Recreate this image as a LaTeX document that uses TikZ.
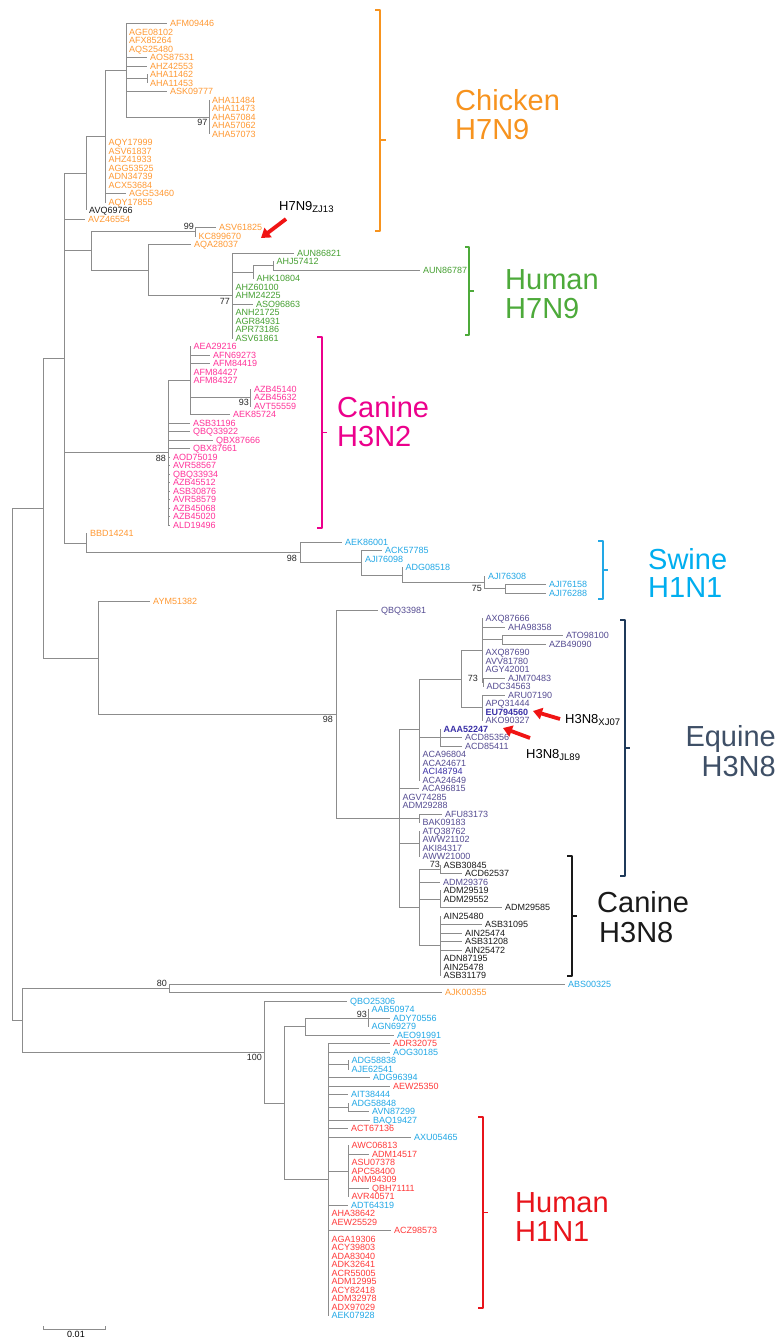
\documentclass[tikz,border=0pt]{standalone}
\usepackage{fontspec}
\setmainfont{Liberation Sans}
\usetikzlibrary{arrows.meta}
\definecolor{brc}{HTML}{8C8C8C}
\definecolor{cO}{HTML}{FF9933}
\definecolor{cG}{HTML}{46A032}
\definecolor{cP}{HTML}{FF3399}
\definecolor{cB}{HTML}{22A8E6}
\definecolor{cV}{HTML}{554C92}
\definecolor{cVb}{HTML}{3B31A8}
\definecolor{cR}{HTML}{FF3A3A}
\definecolor{cK}{HTML}{1A1A1A}
\definecolor{kO}{HTML}{F7931E}
\definecolor{kG}{HTML}{4DAA3A}
\definecolor{kP}{HTML}{EC008C}
\definecolor{kB}{HTML}{00AEEF}
\definecolor{kE}{HTML}{1F3A5A}
\definecolor{kEt}{HTML}{3E4F66}
\definecolor{kR}{HTML}{E8141B}
\definecolor{arrowred}{HTML}{F01414}
\newcommand\lfont{\fontsize{9}{9}\selectfont}
\newcommand\bigfont{\fontsize{29}{26}\selectfont}
\newcommand\Nd[4]{\coordinate (#2) at (#3,#4); \draw[br] (#1) |- (#2);}
\newcommand\Lf[5]{\node[lf,text=#5] (#2) at (#3,#4) {#2}; \draw[br] (#1) |- (#2.west);}
\tikzset{
 br/.style={draw=brc, line width=0.8pt},
 lf/.style={anchor=west, inner xsep=3pt, inner ysep=0pt, font=\lfont, text height=6.4pt, text depth=0pt},
 bs/.style={anchor=east, inner sep=0pt, font=\lfont, text=black!85, text height=6.4pt, text depth=0pt},
 brk/.style={line width=1.4pt, line join=round},
 big/.style={anchor=base west, inner sep=0pt, font=\bigfont},
 ann/.style={anchor=base west, inner sep=0pt, font=\fontsize{13}{13}\selectfont, text=black},
 rarrow/.style={draw=arrowred, line width=3.8pt, -{Triangle[length=9pt,width=11.5pt]}},
}
\newcommand\sbs[1]{\raisebox{-2pt}{\fontsize{9.5}{9.5}\selectfont #1}}
\begin{document}
\begin{tikzpicture}[x=1pt,y=-1pt]
\fill[white] (0,0) rectangle (780,1337);
\useasboundingbox (0,0) rectangle (780,1337);
% ---- root and backbone
\coordinate (R) at (12,764);
\Nd{R}{NA}{43}{508}
\Nd{NA}{NB}{64}{358.2}
\Nd{NB}{Nchk}{86}{173.3}
\Nd{Nchk}{N105}{105}{136.1}
\Nd{N105}{N126}{126}{70.25}
% chicken
\Lf{N126}{AFM09446}{167}{23.5}{cO}
\Lf{N126}{AGE08102}{126}{32}{cO}
\Lf{N126}{AFX85264}{126}{40.5}{cO}
\Lf{N126}{AQS25480}{126}{49}{cO}
\Lf{N126}{AOS87531}{147}{57.5}{cO}
\Lf{N126}{AHZ42553}{147}{66}{cO}
\Nd{N126}{N147}{147}{78.75}
\Lf{N147}{AHA11462}{147}{74.5}{cO}
\Lf{N147}{AHA11453}{147}{83}{cO}
\Lf{N126}{ASK09777}{167}{91.5}{cO}
\Nd{N126}{N97}{209}{117}
\Lf{N97}{AHA11484}{209}{100}{cO}
\Lf{N97}{AHA11473}{209}{108.5}{cO}
\Lf{N97}{AHA57084}{209}{117}{cO}
\Lf{N97}{AHA57062}{209}{125.5}{cO}
\Lf{N97}{AHA57073}{209}{134}{cO}
\node[bs] (b97) at (207.5,122.7) {97};
\Lf{N105}{AQY17999}{105.5}{142.5}{cO}
\Lf{N105}{ASV61837}{105.5}{151}{cO}
\Lf{N105}{AHZ41933}{105.5}{159.5}{cO}
\Lf{N105}{AGG53525}{105.5}{168}{cO}
\Lf{N105}{ADN34739}{105.5}{176.5}{cO}
\Lf{N105}{ACX53684}{105.5}{185}{cO}
\Lf{N105}{AGG53460}{126}{193.5}{cO}
\Lf{N105}{AQY17855}{105.5}{202}{cO}
\Lf{Nchk}{AVQ69766}{86}{210.5}{cK}
\Lf{NB}{AVZ46554}{85}{219}{cO}
% H7N9 human group
\Nd{NB}{N91}{91}{250.9}
\Nd{N91}{N99}{195}{231.75}
\Lf{N99}{ASV61825}{216}{227.5}{cO}
\Lf{N99}{KC899670}{195.5}{236}{cO}
\node[bs] (b99) at (194,226.5) {99};
\Nd{N91}{N148}{148}{270}
\Lf{N148}{AQA28037}{191}{244.5}{cO}
\Nd{N148}{N77}{232}{295.5}
\Lf{N77}{AUN86821}{294}{253}{cG}
\Nd{N77}{N253}{253}{272.1}
\Nd{N253}{N273}{273}{265.75}
\Lf{N273}{AHJ57412}{273.5}{261.5}{cG}
\Lf{N273}{AUN86787}{420}{270}{cG}
\Lf{N253}{AHK10804}{253.5}{278.5}{cG}
\Lf{N77}{AHZ60100}{232.5}{287}{cG}
\Lf{N77}{AHM24225}{232.5}{295.5}{cG}
\Lf{N77}{ASO96863}{253}{304}{cG}
\Lf{N77}{ANH21725}{232.5}{312.5}{cG}
\Lf{N77}{AGR84931}{232.5}{321}{cG}
\Lf{N77}{APR73186}{232.5}{329.5}{cG}
\Lf{N77}{ASV61861}{232.5}{338}{cG}
\node[bs] (b77) at (230,301) {77};
% canine H3N2
\Nd{NB}{N88}{168}{452.75}
\Nd{N88}{N190}{190}{380.5}
\Lf{N190}{AEA29216}{190.5}{346.5}{cP}
\Lf{N190}{AFN69273}{210}{355}{cP}
\Lf{N190}{AFM84419}{210}{363.5}{cP}
\Lf{N190}{AFM84427}{190.5}{372}{cP}
\Lf{N190}{AFM84327}{190.5}{380.5}{cP}
\Nd{N190}{N93a}{250}{397.5}
\Lf{N93a}{AZB45140}{251}{389}{cP}
\Lf{N93a}{AZB45632}{251}{397.5}{cP}
\Lf{N93a}{AVT55559}{251}{406}{cP}
\node[bs] (b93a) at (249,402.5) {93};
\Lf{N190}{AEK85724}{230}{414.5}{cP}
\Lf{N88}{ASB31196}{190}{423}{cP}
\Lf{N88}{QBQ33922}{190}{431.5}{cP}
\Lf{N88}{QBX87666}{213}{440}{cP}
\Lf{N88}{QBX87661}{190}{448.5}{cP}
\Lf{N88}{AOD75019}{170}{457}{cP}
\Lf{N88}{AVR58567}{170}{465.5}{cP}
\Lf{N88}{QBQ33934}{170}{474}{cP}
\Lf{N88}{AZB45512}{170}{482.5}{cP}
\Lf{N88}{ASB30876}{170}{491}{cP}
\Lf{N88}{AVR58579}{170}{499.5}{cP}
\Lf{N88}{AZB45068}{170}{508}{cP}
\Lf{N88}{AZB45020}{170}{516.5}{cP}
\Lf{N88}{ALD19496}{170}{525}{cP}
\node[bs] (b88) at (166,458) {88};
% swine
\Nd{NB}{N86b}{86}{543}
\Lf{N86b}{BBD14241}{87}{533.5}{cO}
\Nd{N86b}{N98s}{300}{552.4}
\Lf{N98s}{AEK86001}{342}{542}{cB}
\Nd{N98s}{N361}{361}{562.7}
\Lf{N361}{ACK57785}{382}{550.5}{cB}
\Lf{N361}{AJI76098}{362}{559}{cB}
\Nd{N361}{N402}{402}{574.9}
\Lf{N402}{ADG08518}{402.5}{567.5}{cB}
\Nd{N402}{N484}{484}{582.4}
\Lf{N484}{AJI76308}{485}{576}{cB}
\Nd{N484}{N505}{505}{588.75}
\Lf{N505}{AJI76158}{546}{584.5}{cB}
\Lf{N505}{AJI76288}{546}{593}{cB}
\node[bs] (b98s) at (297,558) {98};
\node[bs] (b75) at (482,588) {75};
% equine and canine H3N8
\Nd{NA}{NAYM}{98}{657.9}
\Lf{NAYM}{AYM51382}{150}{601.5}{cO}
\Nd{NAYM}{N336}{336}{714.25}
\Lf{N336}{QBQ33981}{378}{610}{cV}
\Nd{N336}{N399}{399}{818.5}
\node[bs] (b98e) at (333,719) {98};
\Nd{N399}{N419a}{419}{729.5}
\Nd{N419a}{N461}{461}{679}
\Nd{N461}{N482u}{482}{650.4}
\Lf{N482u}{AXQ87666}{482.5}{618.5}{cV}
\Lf{N482u}{AHA98358}{505}{627}{cV}
\Nd{N482u}{N502}{502}{639.75}
\Lf{N502}{ATO98100}{563}{635.5}{cV}
\Lf{N502}{AZB49090}{546}{644}{cV}
\Lf{N482u}{AXQ87690}{482.5}{652.5}{cV}
\Lf{N482u}{AVV81780}{482.5}{661}{cV}
\Lf{N482u}{AGY42001}{482.5}{669.5}{cV}
\Nd{N482u}{N73e}{483}{682.25}
\Lf{N73e}{AJM70483}{505}{678}{cV}
\Lf{N73e}{ADC34563}{483.5}{686.5}{cV}
\node[bs] (b73e) at (478,678) {73};
\Nd{N461}{N482l}{482}{707.75}
\Lf{N482l}{ARU07190}{505}{695}{cV}
\Lf{N482l}{APQ31444}{482.5}{703.5}{cV}
\node[lf,text=cVb,font=\lfont\bfseries] (EU794560) at (482.5,712) {EU794560};
\draw[br] (N482l) |- (EU794560.west);
\Lf{N482l}{AKO90327}{482.5}{720.5}{cV}
\Nd{N419a}{N440a}{440}{737.5}
\node[lf,text=cVb,font=\lfont\bfseries] (AAA52247) at (440.5,729) {AAA52247};
\draw[br] (N440a) |- (AAA52247.west);
\Lf{N440a}{ACD85356}{462}{737.5}{cV}
\Lf{N440a}{ACD85411}{462}{746}{cV}
\Lf{N419a}{ACA96804}{419.5}{754.5}{cV}
\Lf{N419a}{ACA24671}{419.5}{763}{cV}
\Lf{N419a}{ACI48794}{419.5}{771.5}{cVb}
\Lf{N419a}{ACA24649}{419.5}{780}{cV}
\Lf{N399}{ACA96815}{419}{788.5}{cV}
\Lf{N399}{AGV74285}{399.5}{797}{cV}
\Lf{N399}{ADM29288}{399.5}{805.5}{cV}
\Nd{N399}{N419b}{419}{818.25}
\Lf{N419b}{AFU83173}{442}{814}{cV}
\Lf{N419b}{BAK09183}{419.5}{822.5}{cV}
\Nd{N399}{N419c}{419}{843.75}
\Lf{N419c}{ATQ38762}{419.5}{831}{cV}
\Lf{N419c}{AWW21102}{419.5}{839.5}{cV}
\Lf{N419c}{AKI84317}{419.5}{848}{cV}
\Lf{N419c}{AWW21000}{419.5}{856.5}{cV}
\Nd{N399}{N419d}{419}{907.5}
\Nd{N419d}{N440b}{440}{869.25}
\Lf{N440b}{ASB30845}{440.5}{865}{cK}
\Lf{N440b}{ACD62537}{462}{873.5}{cK}
\node[bs] (b73c) at (440,864.5) {73};
\Lf{N419d}{ADM29376}{440}{882}{cV}
\Nd{N419d}{N440c}{440}{899}
\Lf{N440c}{ADM29519}{440.5}{890.5}{cK}
\Lf{N440c}{ADM29552}{440.5}{899}{cK}
\Lf{N440c}{ADM29585}{502}{907.5}{cK}
\Nd{N419d}{N440d}{440}{945.75}
\Lf{N440d}{AIN25480}{440.5}{916}{cK}
\Lf{N440d}{ASB31095}{482}{924.5}{cK}
\Lf{N440d}{AIN25474}{462}{933}{cK}
\Lf{N440d}{ASB31208}{462}{941.5}{cK}
\Lf{N440d}{AIN25472}{462}{950}{cK}
\Lf{N440d}{ADN87195}{440.5}{958.5}{cK}
\Lf{N440d}{AIN25478}{440.5}{967}{cK}
\Lf{N440d}{ASB31179}{440.5}{975.5}{cK}
% lower part
\Nd{R}{NC}{22.5}{1020.1}
\Nd{NC}{N80}{169}{988.25}
\Lf{N80}{ABS00325}{565}{984}{cB}
\Lf{N80}{AJK00355}{442}{992.5}{cO}
\node[bs] (b80) at (167,983) {80};
\Nd{NC}{N100}{264}{1052}
\Lf{N100}{QBO25306}{347}{1001}{cB}
\node[bs] (b100) at (262,1057) {100};
\Nd{N100}{N284}{284}{1103}
\Nd{N284}{N305}{305}{1026.5}
\Nd{N305}{N368}{368}{1018}
\Lf{N368}{AAB50974}{368.5}{1009.5}{cB}
\Lf{N368}{ADY70556}{390}{1018}{cB}
\Lf{N368}{AGN69279}{368.5}{1026.5}{cB}
\node[bs] (b93h) at (367,1014) {93};
\Lf{N305}{AEO91991}{394}{1035}{cB}
\Nd{N284}{N328}{328}{1179.5}
\Lf{N328}{ADR32075}{390}{1043.5}{cR}
\Lf{N328}{AOG30185}{390}{1052}{cB}
\Nd{N328}{N348a}{348}{1064.75}
\Lf{N348a}{ADG58838}{348.5}{1060.5}{cB}
\Lf{N348a}{AJE62541}{348.5}{1069}{cB}
\Lf{N328}{ADG96394}{370}{1077.5}{cB}
\Lf{N328}{AEW25350}{390}{1086}{cR}
\Lf{N328}{AIT38444}{348}{1094.5}{cB}
\Nd{N328}{N348b}{348}{1107.25}
\Lf{N348b}{ADG58848}{348.5}{1103}{cB}
\Lf{N348b}{AVN87299}{369}{1111.5}{cB}
\Lf{N328}{BAQ19427}{370}{1120}{cB}
\Lf{N328}{ACT67136}{348}{1128.5}{cR}
\Lf{N328}{AXU05465}{411}{1137}{cB}
\Nd{N328}{N348c}{348}{1171}
\Lf{N348c}{AWC06813}{348.5}{1145.5}{cR}
\Lf{N348c}{ADM14517}{369}{1154}{cR}
\Lf{N348c}{ASU07378}{348.5}{1162.5}{cR}
\Lf{N348c}{APC58400}{348.5}{1171}{cR}
\Lf{N348c}{ANM94309}{348.5}{1179.5}{cR}
\Lf{N348c}{QBH71111}{369}{1188}{cR}
\Lf{N348c}{AVR40571}{348.5}{1196.5}{cR}
\Lf{N328}{ADT64319}{348}{1205}{cB}
\Lf{N328}{AHA38642}{328.5}{1213.5}{cR}
\Lf{N328}{AEW25529}{328.5}{1222}{cR}
\Lf{N328}{ACZ98573}{391}{1230.5}{cR}
\Lf{N328}{AGA19306}{328.5}{1239}{cR}
\Lf{N328}{ACY39803}{328.5}{1247.5}{cR}
\Lf{N328}{ADA83040}{328.5}{1256}{cR}
\Lf{N328}{ADK32641}{328.5}{1264.5}{cR}
\Lf{N328}{ACR55005}{328.5}{1273}{cR}
\Lf{N328}{ADM12995}{328.5}{1281.5}{cR}
\Lf{N328}{ACY82418}{328.5}{1290}{cR}
\Lf{N328}{ADM32978}{328.5}{1298.5}{cR}
\Lf{N328}{ADX97029}{328.5}{1307}{cR}
\Lf{N328}{AEK07928}{328.5}{1315.5}{cB}
% ---- brackets
\draw[brk,draw=kO] (375,10) -- (380,10) -- (380,231) -- (375,231) (380,140) -- (386,140);
\draw[brk,draw=kG] (465,247) -- (469,247) -- (469,335) -- (465,335) (469,291) -- (474,291);
\draw[brk,draw=kP] (317,337) -- (322,337) -- (322,528) -- (317,528) (322,432.5) -- (327,432.5);
\draw[brk,draw=cB] (598,541) -- (603,541) -- (603,599) -- (598,599) (603,570) -- (608,570);
\draw[brk,draw=kE] (620,620) -- (625,620) -- (625,876) -- (620,876) (625,748) -- (630,748);
\draw[brk,draw=cK] (567,856) -- (572,856) -- (572,976) -- (567,976) (572,916) -- (577,916);
\draw[brk,draw=kR] (478,1117) -- (483,1117) -- (483,1308) -- (478,1308) (483,1212.5) -- (488,1212.5);
% ---- group labels
\node[big,text=kO] (chk1) at (455,111) {Chicken};
\node[big,text=kO] (chk2) at (455,140) {H7N9};
\node[big,text=kG] (hum1) at (505,290) {Human};
\node[big,text=kG] (hum2) at (505,319) {H7N9};
\node[big,text=kP] (can1) at (337,417) {Canine};
\node[big,text=kP] (can2) at (337,446) {H3N2};
\node[big,text=kB] (swi1) at (648,569) {Swine};
\node[big,text=kB] (swi2) at (648,597) {H1N1};
\node[big,text=kEt,anchor=base east] (equ1) at (776,746) {Equine};
\node[big,text=kEt,anchor=base east] (equ2) at (776,776) {H3N8};
\node[big,text=cK] (cah1) at (597,912) {Canine};
\node[big,text=cK] (cah2) at (599,942) {H3N8};
\node[big,text=kR] (hh1) at (515,1212) {Human};
\node[big,text=kR] (hh2) at (515,1241) {H1N1};
% ---- strain annotations and arrows
\node[ann] (zj13) at (279,210.5) {H7N9\sbs{ZJ13}};
\node[ann] (xj07) at (565,723) {H3N8\sbs{XJ07}};
\node[ann] (jl89) at (526,758) {H3N8\sbs{JL89}};
\coordinate (a1s) at (286,219); \coordinate (a1e) at (261,238);
\coordinate (a2s) at (560,719); \coordinate (a2e) at (533,711);
\coordinate (a3s) at (530,738); \coordinate (a3e) at (503,728);
\draw[rarrow] (a1s) -- (a1e);
\draw[rarrow] (a2s) -- (a2e);
\draw[rarrow] (a3s) -- (a3e);
% ---- scale bar
\coordinate (sb1) at (43,1329); \coordinate (sb2) at (105,1329);
\draw[br] ([yshift=3pt]sb1) -- (sb1) -- (sb2) -- ([yshift=3pt]sb2);
\node[lf,anchor=north,inner sep=0pt] (sbl) at (76,1331) {0.01};
\end{tikzpicture}
\end{document}
